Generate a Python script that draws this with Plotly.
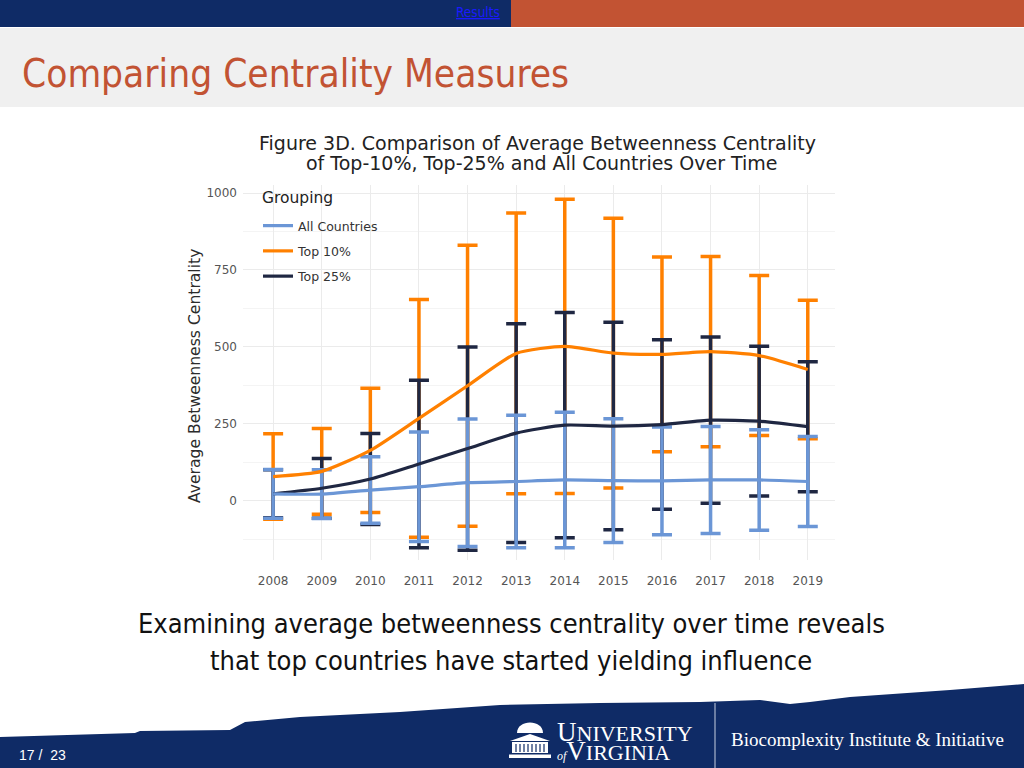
import plotly.graph_objects as go

# --- data ---
years = [2008, 2009, 2010, 2011, 2012, 2013, 2014, 2015, 2016, 2017, 2018, 2019]

all_mean = [23, 22, 35, 46, 59, 63, 68, 66, 65, 68, 68, 63]
all_err = [79, 79, 108, 178, 207, 215, 220, 201, 175, 174, 163, 146]

top10_mean = [79, 96, 164, 268, 374, 479, 502, 480, 476, 485, 472, 427]
top10_err = [139, 139, 202, 386, 456, 456, 478, 438, 316, 309, 260, 225]

top25_mean = [23, 41, 71, 120, 170, 220, 246, 243, 248, 262, 259, 241]
top25_err = [78, 97, 148, 272, 330, 355, 366, 337, 275, 270, 243, 211]

y_ticks = [0, 250, 500, 750, 1000]
y_minor = [-125, 125, 375, 625, 875]

BLUE = "#6b96d6"
ORANGE = "#ff8000"
NAVY_LINE = "#1f2742"
NAVY = "#0f2b66"
RUST = "#c25333"

W, H = 1024, 768


def px(x):
    return x / W


def py(y):
    return 1 - y / H


def path(points):
    s = "M " + " L ".join(f"{px(x):.4f},{py(y):.4f}" for x, y in points)
    return s + " Z"


fig = go.Figure()

series = [
    ("Top 10%", top10_mean, top10_err, ORANGE, 2),
    ("Top 25%", top25_mean, top25_err, NAVY_LINE, 3),
    ("All Countries", all_mean, all_err, BLUE, 1),
]

# error bars first (orange under navy under blue)
for name, m, e, c, rank in series:
    fig.add_trace(go.Scatter(
        x=years, y=m, mode="markers",
        marker=dict(size=1, color=c),
        error_y=dict(type="data", array=e, symmetric=True,
                     color=c, thickness=3.5, width=10),
        showlegend=False, hoverinfo="skip",
    ))

# mean lines on top
for name, m, e, c, rank in series:
    fig.add_trace(go.Scatter(
        x=years, y=m, mode="lines", name=name,
        line=dict(color=c, width=3.2, shape="spline", smoothing=0.6),
        legendrank=rank, legendgroup=name,
    ))

# --- slide decoration ---
shapes = [
    dict(type="rect", xref="paper", yref="paper", x0=0, x1=px(511), y0=py(27), y1=1,
         fillcolor=NAVY, line_width=0, layer="below"),
    dict(type="rect", xref="paper", yref="paper", x0=px(511), x1=1, y0=py(27), y1=1,
         fillcolor=RUST, line_width=0, layer="below"),
    dict(type="rect", xref="paper", yref="paper", x0=0, x1=1, y0=py(107), y1=py(28),
         fillcolor="#f0f0f0", line_width=0, layer="below"),
    # legend box hides the grid behind it
    dict(type="rect", xref="paper", yref="paper", x0=px(250), x1=px(386), y0=py(292), y1=py(186),
         fillcolor="white", line_width=0, layer="between"),
    # footer wave
    dict(type="path", xref="paper", yref="paper", layer="above",
         path=path([(0, 737), (135, 733), (140, 731), (230, 730), (245, 722), (300, 717),
                    (400, 712), (500, 705), (600, 703), (700, 702), (760, 700), (790, 704),
                    (810, 702), (850, 697), (950, 690), (1024, 684), (1024, 768), (0, 768)]),
         fillcolor=NAVY, line_width=0),
    # divider
    dict(type="line", xref="paper", yref="paper", x0=px(715), x1=px(715), y0=0, y1=py(703),
         line=dict(color="#c8d0e0", width=1)),
    # rotunda icon
    dict(type="path", xref="paper", yref="paper",
         path=f"M {px(517)},{py(733)} C {px(517)},{py(719)} {px(543)},{py(719)} {px(543)},{py(733)} Z",
         fillcolor="white", line_width=0),
    dict(type="path", xref="paper", yref="paper",
         path=path([(510, 741), (530, 734), (550, 741)]),
         fillcolor="white", line_width=0),
    dict(type="rect", xref="paper", yref="paper", x0=px(512), x1=px(548), y0=py(753), y1=py(742),
         fillcolor="white", line_width=0),
    dict(type="rect", xref="paper", yref="paper", x0=px(509), x1=px(551), y0=py(758), y1=py(754.5),
         fillcolor="white", line_width=0),
]
for cx in range(516, 546, 4):
    shapes.append(dict(type="line", xref="paper", yref="paper", x0=px(cx), x1=px(cx),
                       y0=py(752), y1=py(744), line=dict(color=NAVY, width=1.2)))

SLIDE_FONT = "DejaVu Sans Condensed, DejaVu Sans"

annotations = [
    dict(text="<u>Results</u>", x=px(502), y=py(12), xanchor="right", yanchor="middle",
         font=dict(size=13.5, color="#1a1aff", family=SLIDE_FONT)),
    dict(text="Comparing Centrality Measures", x=px(20), y=py(74), xanchor="left", yanchor="middle",
         font=dict(size=38.5, color=RUST, family=SLIDE_FONT)),
    dict(text="Figure 3D. Comparison of Average Betweenness Centrality", x=px(537), y=py(143),
         xanchor="center", yanchor="middle",
         font=dict(size=19, color="#222222", family="DejaVu Sans")),
    dict(text="of Top-10%, Top-25% and All Countries Over Time", x=px(542), y=py(163),
         xanchor="center", yanchor="middle",
         font=dict(size=19, color="#222222", family="DejaVu Sans")),
    dict(text="Average Betweenness Centrality", x=px(195), y=py(376), textangle=-90,
         xanchor="center", yanchor="middle",
         font=dict(size=15.6, color="#2b2b2b", family="DejaVu Sans")),
    dict(text="Grouping", x=px(260), y=py(198), xanchor="left", yanchor="middle",
         font=dict(size=15.5, color="#222222", family="DejaVu Sans")),
    dict(text="Examining average betweenness centrality over time reveals", x=px(511), y=py(623),
         xanchor="center", yanchor="middle",
         font=dict(size=27, color="#111111", family=SLIDE_FONT)),
    dict(text="that top countries have started yielding influence", x=px(511), y=py(660),
         xanchor="center", yanchor="middle",
         font=dict(size=27, color="#111111", family=SLIDE_FONT)),
    dict(text="17 /  23", x=px(17), y=py(755), xanchor="left", yanchor="middle",
         font=dict(size=14, color="white", family="Liberation Sans")),
    dict(text=("<span style='font-size:27px'>U</span><span style='font-size:22px'>NIVERSITY</span><br>"
               "<i style='font-size:12px'>of</i><span style='font-size:27px'>V</span>"
               "<span style='font-size:22px'>IRGINIA</span>"),
         x=px(555), y=py(741), xanchor="left", yanchor="middle", align="left",
         font=dict(size=14.5, color="white", family="Liberation Serif")),
    dict(text="Biocomplexity Institute &amp; Initiative", x=px(729), y=py(739),
         xanchor="left", yanchor="middle",
         font=dict(size=19, color="white", family="Liberation Serif")),
]
for a in annotations:
    a.update(xref="paper", yref="paper", showarrow=False)

fig.update_layout(
    width=W, height=H,
    margin=dict(l=0, r=0, t=0, b=0),
    paper_bgcolor="white",
    plot_bgcolor="white",
    shapes=shapes,
    annotations=annotations,
    xaxis=dict(
        domain=[px(243), px(835)],
        range=[2007.38, 2019.56],
        tickvals=years,
        showgrid=True, gridcolor="#ebebeb", gridwidth=1,
        zeroline=False, showline=False, ticks="",
        tickfont=dict(size=12, color="#555555", family="DejaVu Sans"),
        ticklabelstandoff=12,
    ),
    yaxis=dict(
        domain=[py(560), py(185)],
        range=[-192, 1026],
        tickvals=y_ticks,
        showgrid=True, gridcolor="#ebebeb", gridwidth=1,
        minor=dict(tickvals=y_minor, showgrid=True, gridcolor="#f4f4f4", gridwidth=1),
        zeroline=False, showline=False, ticks="",
        tickfont=dict(size=12, color="#555555", family="DejaVu Sans"),
        ticklabelstandoff=5,
    ),
    legend=dict(
        x=px(258), y=py(211), xanchor="left", yanchor="top",
        bgcolor="rgba(0,0,0,0)", borderwidth=0,
        font=dict(size=12.5, color="#333333", family="DejaVu Sans"),
        traceorder="grouped", tracegroupgap=6, itemwidth=30,
    ),
    font=dict(family="DejaVu Sans"),
)

fig.write_html("out.html", config={"displayModeBar": False},
               post_script="document.body.style.margin='0';document.body.style.overflow='hidden';")
